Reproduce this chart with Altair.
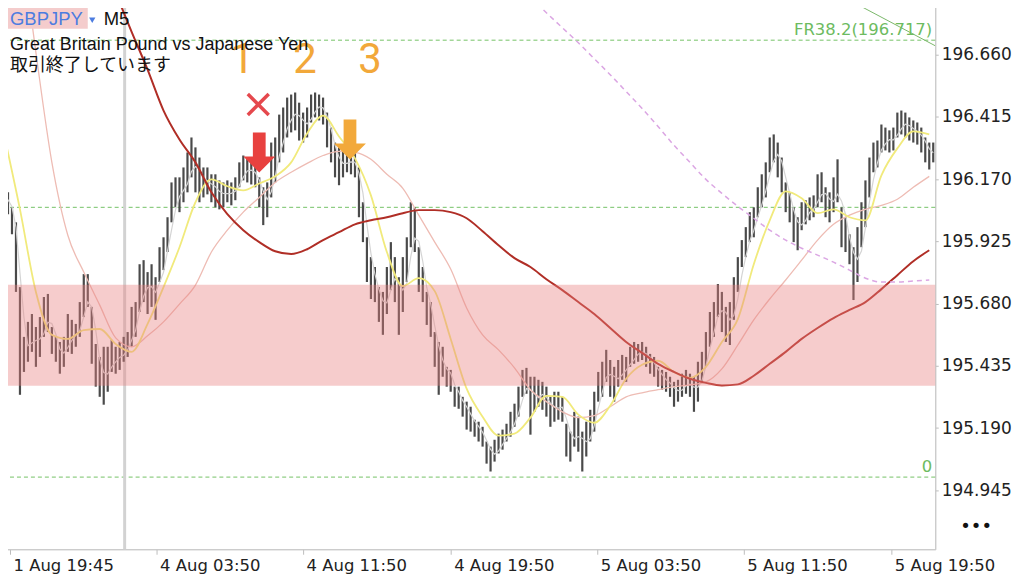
import altair as alt
import pandas as pd

# ---- price bars (each bar ~13 min) ----
highs = [
    196.146, 196.118, 196.059, 196.000, 195.745, 195.549, 195.608, 195.639, 195.588, 195.627,
    195.706, 195.718, 195.588, 195.549, 195.529, 195.549, 195.639, 195.616, 195.600, 195.686,
    195.796, 195.796, 195.667, 195.521, 195.470, 195.510, 195.510, 195.537, 195.510, 195.529,
    195.549, 195.568, 195.667, 195.686, 195.835, 195.851, 195.804, 195.835, 195.784, 195.902,
    195.941, 196.020, 196.157, 196.177, 196.177, 196.216, 196.275, 196.334, 196.295, 196.255,
    196.216, 196.216, 196.189, 196.189, 196.165, 196.157, 196.165, 196.157, 196.177, 196.236,
    196.263, 196.255, 196.244, 196.236, 196.177, 196.138, 196.157, 196.314, 196.334, 196.424,
    196.452, 196.491, 196.503, 196.511, 196.471, 196.432, 196.452, 196.503, 196.511, 196.503,
    196.491, 196.432, 196.373, 196.314, 196.295, 196.283, 196.295, 196.287, 196.275, 196.216,
    196.079, 195.941, 195.863, 195.824, 195.745, 195.726, 195.824, 195.922, 195.863, 195.784,
    195.863, 195.941, 196.079, 196.059, 195.902, 195.824, 195.726, 195.686, 195.568, 195.529,
    195.510, 195.431, 195.419, 195.353, 195.353, 195.313, 195.294, 195.274, 195.223, 195.215,
    195.195, 195.137, 195.117, 195.144, 195.168, 195.184, 195.207, 195.254, 195.286, 195.353,
    195.419, 195.427, 195.392, 195.392, 195.380, 195.372, 195.353, 195.313, 195.333, 195.333,
    195.313, 195.207, 195.176, 195.254, 195.235, 195.176, 195.215, 195.262, 195.333, 195.411,
    195.451, 195.498, 195.458, 195.431, 195.458, 195.478, 195.470, 195.510, 195.529, 195.521,
    195.529, 195.510, 195.482, 195.470, 195.431, 195.419, 195.411, 195.392, 195.372, 195.380,
    195.404, 195.419, 195.404, 195.392, 195.451, 195.490, 195.568, 195.647, 195.686, 195.757,
    195.726, 195.667, 195.686, 195.784, 195.863, 195.930, 195.981, 196.040, 196.059, 196.138,
    196.189, 196.236, 196.334, 196.346, 196.314, 196.255, 196.157, 196.118, 196.059, 196.020,
    196.079, 196.087, 196.098, 196.106, 196.189, 196.197, 196.138, 196.118, 196.177, 196.248,
    196.059, 196.020, 195.953, 195.902, 195.981, 196.079, 196.165, 196.255, 196.314, 196.322,
    196.385, 196.373, 196.362, 196.373, 196.432, 196.440, 196.432, 196.413, 196.401, 196.393,
    196.373, 196.334, 196.314, 196.314,
]
lows = [
    196.059, 196.032, 195.953, 195.726, 195.321, 195.411, 195.451, 195.490, 195.431, 195.470,
    195.549, 195.568, 195.482, 195.451, 195.404, 195.431, 195.490, 195.482, 195.510, 195.549,
    195.627, 195.667, 195.443, 195.353, 195.313, 195.282, 195.333, 195.411, 195.404, 195.419,
    195.451, 195.470, 195.510, 195.549, 195.647, 195.686, 195.639, 195.667, 195.616, 195.765,
    195.812, 195.883, 196.000, 196.059, 196.040, 196.079, 196.118, 196.177, 196.118, 196.079,
    196.098, 196.110, 196.079, 196.059, 196.051, 196.059, 196.079, 196.067, 196.087, 196.138,
    196.165, 196.157, 196.149, 196.138, 196.059, 195.989, 196.020, 196.098, 196.157, 196.236,
    196.275, 196.334, 196.354, 196.362, 196.322, 196.314, 196.334, 196.393, 196.413, 196.401,
    196.385, 196.295, 196.236, 196.177, 196.146, 196.177, 196.197, 196.189, 196.177, 196.020,
    195.922, 195.765, 195.698, 195.686, 195.608, 195.557, 195.639, 195.733, 195.686, 195.557,
    195.647, 195.765, 195.902, 195.883, 195.726, 195.686, 195.596, 195.549, 195.431, 195.321,
    195.392, 195.353, 195.333, 195.274, 195.266, 195.235, 195.184, 195.176, 195.156, 195.137,
    195.117, 195.050, 195.019, 195.058, 195.090, 195.105, 195.137, 195.156, 195.195, 195.235,
    195.313, 195.325, 195.164, 195.254, 195.274, 195.262, 195.235, 195.195, 195.215, 195.223,
    195.215, 195.078, 195.058, 195.117, 195.097, 195.019, 195.078, 195.137, 195.176, 195.294,
    195.313, 195.372, 195.313, 195.294, 195.353, 195.380, 195.372, 195.431, 195.443, 195.451,
    195.458, 195.431, 195.404, 195.392, 195.353, 195.341, 195.333, 195.313, 195.274, 195.294,
    195.313, 195.325, 195.313, 195.254, 195.294, 195.372, 195.431, 195.510, 195.549, 195.627,
    195.568, 195.529, 195.517, 195.616, 195.726, 195.824, 195.863, 195.922, 195.941, 196.020,
    196.059, 196.098, 196.197, 196.236, 196.177, 196.118, 196.040, 196.000, 195.922, 195.890,
    195.969, 195.992, 196.008, 196.020, 196.059, 196.079, 196.020, 196.000, 196.040, 196.079,
    195.902, 195.883, 195.835, 195.694, 195.765, 195.902, 195.981, 196.098, 196.197, 196.216,
    196.275, 196.283, 196.275, 196.283, 196.334, 196.346, 196.334, 196.322, 196.314, 196.306,
    196.275, 196.236, 196.208, 196.236,
]

# ---- moving averages, read every 4 bars ----
ma_step = 4
yellow_ma = [
    196.346, 196.051, 195.726, 195.557, 195.541, 195.576, 195.580, 195.521, 195.490, 195.600,
    195.745, 195.902, 196.079, 196.169, 196.142, 196.126, 196.153, 196.181, 196.236, 196.350,
    196.420, 196.338, 196.252, 196.106, 195.883, 195.749, 195.780, 195.729, 195.541, 195.345,
    195.235, 195.160, 195.168, 195.231, 195.317, 195.313, 195.243, 195.211, 195.278, 195.384,
    195.439, 195.455, 195.411, 195.388, 195.431, 195.529, 195.619, 195.835, 196.008, 196.122,
    196.095, 196.036, 196.051, 196.020, 196.008, 196.185, 196.291, 196.358, 196.346,
]
pink_ma = [
    None, 197.139, 196.668, 196.236, 195.949, 195.804, 195.674, 195.545, 195.510, 195.553,
    195.608, 195.678, 195.753, 195.883, 195.969, 196.040, 196.098, 196.157, 196.197, 196.232,
    196.263, 196.279, 196.275, 196.248, 196.189, 196.134, 196.028, 195.922, 195.816, 195.663,
    195.557, 195.498, 195.427, 195.341, 195.294, 195.254, 195.231, 195.239, 195.274, 195.313,
    195.329, 195.341, 195.353, 195.360, 195.372, 195.423, 195.517, 195.616, 195.698, 195.773,
    195.851, 195.930, 195.992, 196.028, 196.051, 196.067, 196.091, 196.138, 196.181,
]
red_ma = [
    None, None, None, None, None, None, 197.060, 196.903, 196.750, 196.601,
    196.440, 196.326, 196.236, 196.118, 196.032, 195.969, 195.922, 195.886, 195.875, 195.894,
    195.930, 195.961, 195.992, 196.008, 196.020, 196.036, 196.048, 196.048, 196.040, 196.016,
    195.965, 195.910, 195.859, 195.824, 195.776, 195.733, 195.686, 195.639, 195.584, 195.529,
    195.486, 195.443, 195.411, 195.384, 195.368, 195.358, 195.362, 195.396, 195.443, 195.490,
    195.541, 195.584, 195.623, 195.655, 195.686, 195.737, 195.792, 195.847, 195.890,
]
arc_start = 132
arc_vals = [
    196.884, 196.825, 196.766, 196.707, 196.644, 196.581, 196.515, 196.448, 196.377, 196.303,
    196.236, 196.169, 196.114, 196.063, 196.016, 195.969, 195.930, 195.898, 195.871, 195.843,
    195.812, 195.780, 195.765, 195.765, 195.769, 195.773,
]
trend_i = [212.5, 233.5]
trend_p = [196.870, 196.695]

levels = [196.717, 196.059, 194.997]
level_labels = ["FR38.2(196.717)", "", "0"]
band_lo, band_hi = 195.357, 195.754
sep_i = [30.25]

y_ticks = [194.945, 195.190, 195.435, 195.680, 195.925, 196.170, 196.415, 196.660]
x_tick_pos = [1.5, 38.25, 75, 112, 148.75, 185.5, 222.5]
x_tick_labels = ["1 Aug 19:45", "4 Aug 03:50", "4 Aug 11:50", "4 Aug 19:50",
                 "5 Aug 03:50", "5 Aug 11:50", "5 Aug 19:50"]

num_t = ["1", "2", "3"]
num_i = [59.75, 75.5, 91.75]
num_p = [196.589, 196.589, 196.589]
arrow_i = [64, 86.75]
arrow_p = [196.275, 196.326]
arrow_c = ["#e8413f", "#f2a93b"]
cross_i = [63.75]
cross_p = [196.464]

# ---- frames ----
n = len(highs)
bars = pd.DataFrame({"i": list(range(n)), "hi": highs, "lo": lows})
bars["mid"] = (bars["hi"] + bars["lo"]) / 2


def series(vals, start=0, step=ma_step):
    rows = [(start + k * step, v) for k, v in enumerate(vals) if v is not None]
    return pd.DataFrame(rows, columns=["i", "v"])


yellow_df = series(yellow_ma)
pink_df = series(pink_ma)
red_df = series(red_ma)
arc_df = series(arc_vals, start=arc_start)
trend_df = pd.DataFrame({"i": trend_i, "v": trend_p})
level_df = pd.DataFrame({"v": levels, "t": level_labels})
band_df = pd.DataFrame({"lo": [band_lo], "hi": [band_hi]})
sep_df = pd.DataFrame({"i": sep_i})
num_df = pd.DataFrame({"i": num_i, "v": num_p, "t": num_t})
arrow_df = pd.DataFrame({"i": arrow_i, "v": arrow_p, "c": arrow_c})
cross_df = pd.DataFrame({"i": cross_i, "v": cross_p})
dummy = pd.DataFrame({"k": [0]})

W, H = 935, 547
xs = alt.Scale(domain=[-0.25, 233.5], nice=False, zero=False)
ys = alt.Scale(domain=[194.713, 196.860], nice=False, zero=False)

expr = "''"
for pos, lab in reversed(list(zip(x_tick_pos, x_tick_labels))):
    expr = f"datum.value == {pos} ? '{lab}' : ({expr})"

xaxis = alt.Axis(values=x_tick_pos, labelExpr=expr, title=None, grid=False,
                 domainColor="#c8c8c8", tickColor="#bdbdbd", tickSize=5,
                 labelAlign="left", labelOffset=3, labelPadding=3,
                 labelFont="DejaVu Sans", labelFontSize=16.5, labelColor="#222222",
                 labelOverlap=False, labelFlush=False)
yaxis = alt.Axis(values=y_ticks, format=".3f", orient="right", title=None, grid=False,
                 domainColor="#c8c8c8", tickColor="#bdbdbd", tickSize=3, labelPadding=3,
                 labelFont="DejaVu Sans", labelFontSize=17, labelColor="#222222",
                 labelOverlap=False, labelFlush=False)


def X(f):
    return alt.X(f, type="quantitative", scale=xs, axis=xaxis)


def Y(f):
    return alt.Y(f, type="quantitative", scale=ys, axis=yaxis)


levels_l = alt.Chart(level_df).mark_rule(color="#74c266", strokeDash=[4, 3], strokeWidth=1).encode(y=Y("v"))
sep_l = alt.Chart(sep_df).mark_rule(color="#d2d2d2", strokeWidth=3).encode(x=X("i"))
candles = alt.Chart(bars).mark_rule(color="#4a4a4a", strokeWidth=2.2).encode(x=X("i"), y=Y("lo"), y2="hi")
grey_l = alt.Chart(bars).transform_window(
    gma="mean(mid)", frame=[-2, 0], sort=[alt.SortField("i")]
).mark_line(color="#d4d4d4", strokeWidth=1.2).encode(x=X("i"), y=Y("gma"))
pink_l = alt.Chart(pink_df).mark_line(color="#eebcb4", strokeWidth=1.3, interpolate="monotone", clip=True).encode(x=X("i"), y=Y("v"))
yellow_l = alt.Chart(yellow_df).mark_line(color="#f1ea7c", strokeWidth=1.8, interpolate="monotone", clip=True).encode(x=X("i"), y=Y("v"))
red_l = alt.Chart(red_df).mark_line(color="#b02e26", strokeWidth=2, interpolate="monotone", clip=True).encode(x=X("i"), y=Y("v"))
arc_l = alt.Chart(arc_df).mark_line(color="#dba6e3", strokeWidth=1.5, strokeDash=[5, 4], interpolate="monotone", clip=True).encode(x=X("i"), y=Y("v"))
trend_l = alt.Chart(trend_df).mark_line(color="#7ab86a", strokeWidth=1, clip=True).encode(x=X("i"), y=Y("v"))
band_l = alt.Chart(band_df).mark_rect(color="#e88080", opacity=0.4).encode(
    x=alt.value(0), x2=alt.value(W), y=Y("lo"), y2="hi")
level_txt = alt.Chart(level_df).mark_text(align="right", baseline="alphabetic", dy=-5,
                                          font="DejaVu Sans", fontSize=16.5, color="#6dbb5f").encode(
    x=alt.value(W - 3), y=Y("v"), text="t")

arrow_path = "M-0.32,-1L0.32,-1L0.32,0.2L0.8,0.2L0,1L-0.8,0.2L-0.32,0.2Z"
cross_path = "M-1,-1L1,1M1,-1L-1,1"
arrows = alt.Chart(arrow_df).mark_point(shape=arrow_path, filled=True, size=1600, opacity=1, strokeWidth=0).encode(
    x=X("i"), y=Y("v"), color=alt.Color("c:N", scale=None))
cross = alt.Chart(cross_df).mark_point(shape=cross_path, filled=False, size=441, strokeWidth=3.5,
                                       color="#e5484d", opacity=1).encode(x=X("i"), y=Y("v"))
nums = alt.Chart(num_df).mark_text(font="Roboto", fontSize=42, fontWeight=400, color="#f2a83a",
                                   align="center", baseline="alphabetic").encode(x=X("i"), y=Y("v"), text="t")

hdr_box = alt.Chart(dummy).mark_rect(color="#f4cccc").encode(
    x=alt.value(-1), x2=alt.value(85), y=alt.value(-1), y2=alt.value(25))
hdr_sym = alt.Chart(dummy).mark_text(text="GBPJPY", font="Liberation Sans", fontSize=18.5, color="#4c7ce0",
                                     align="left", baseline="alphabetic").encode(x=alt.value(7), y=alt.value(21))
hdr_tri = alt.Chart(dummy).mark_point(shape="triangle-down", filled=True, size=40, color="#4c7ce0", opacity=1).encode(
    x=alt.value(89.5), y=alt.value(16.5))
hdr_tf = alt.Chart(dummy).mark_text(text="M5", font="Liberation Sans", fontSize=18.5, color="#111111",
                                    align="left", baseline="alphabetic").encode(x=alt.value(101), y=alt.value(21))
hdr_name = alt.Chart(dummy).mark_text(text="Great Britain Pound vs Japanese Yen", font="Liberation Sans",
                                      fontSize=18, color="#111111", align="left", baseline="alphabetic").encode(
    x=alt.value(7), y=alt.value(46))
hdr_jp = alt.Chart(dummy).mark_text(text="取引終了しています", font="Noto Sans CJK JP", fontSize=18,
                                    color="#111111", align="left", baseline="alphabetic").encode(
    x=alt.value(7), y=alt.value(67))
dots = alt.Chart(dummy).mark_text(text="•••", font="DejaVu Sans", fontSize=18, color="#111111",
                                  align="center", baseline="middle").encode(x=alt.value(976), y=alt.value(525))

chart = alt.layer(
    levels_l, sep_l, candles, grey_l, pink_l, yellow_l, red_l, band_l, arc_l, trend_l,
    level_txt, arrows, cross, nums, hdr_box, hdr_sym, hdr_tri, hdr_tf, hdr_name, hdr_jp, dots,
).properties(
    width=W, height=H,
    padding={"left": -7, "top": -7, "right": 4, "bottom": 2},
    background="white",
).configure_view(stroke="#cccccc", strokeWidth=1)

chart.save("out.html", embed_options={"renderer": "svg", "actions": False})
